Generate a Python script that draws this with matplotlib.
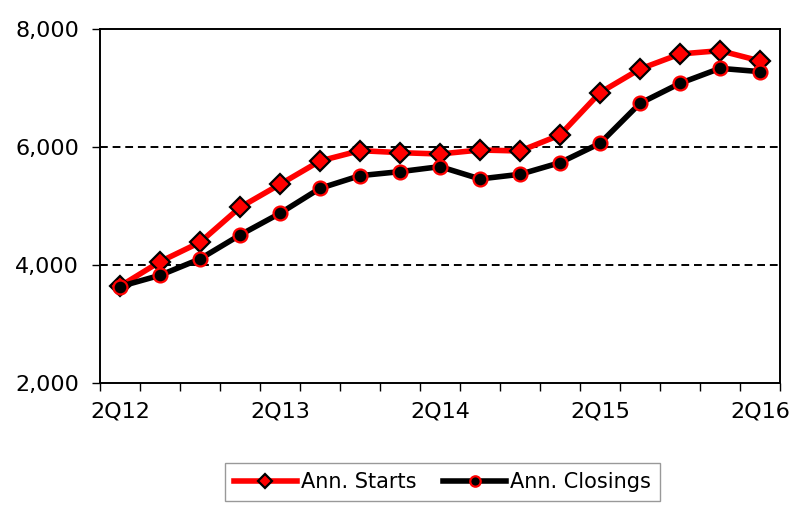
import matplotlib.pyplot as plt
from matplotlib.ticker import FuncFormatter, FixedLocator

# Quarterly data, 2Q12 .. 2Q16
quarters = ["2Q12", "3Q12", "4Q12", "1Q13", "2Q13", "3Q13", "4Q13", "1Q14", "2Q14",
            "3Q14", "4Q14", "1Q15", "2Q15", "3Q15", "4Q15", "1Q16", "2Q16"]
ann_starts = [3640, 4056, 4384, 4977, 5367, 5763, 5938, 5904, 5881,
              5949, 5932, 6203, 6921, 7322, 7576, 7633, 7458]
ann_closings = [3635, 3825, 4102, 4508, 4876, 5299, 5514, 5582, 5667,
                5458, 5537, 5734, 6062, 6740, 7079, 7333, 7277]
tick_labels = ["2Q12", "2Q13", "2Q14", "2Q15", "2Q16"]

plt.rcParams['font.family'] = ['DejaVu Sans']

fig = plt.figure(figsize=(8, 5.25), dpi=100)
ax = fig.add_axes([0.125, 0.2705, 0.85, 0.6743])

x = list(range(len(quarters)))
ax.plot(x, ann_starts, color='red', lw=4, marker='D', ms=10,
        mfc='red', mec='black', mew=1.6, label="Ann. Starts", zorder=3)
ax.plot(x, ann_closings, color='black', lw=4, marker='o', ms=10,
        mfc='black', mec='red', mew=1.6, label="Ann. Closings", zorder=3)

ax.set_ylim(2000, 8000)
ax.set_yticks([2000, 4000, 6000, 8000])
ax.yaxis.set_major_formatter(FuncFormatter(lambda v, p: f"{int(v):,}"))
for g in [4000, 6000]:
    ax.axhline(g, color='black', ls=(0, (4, 2.5)), lw=1.4, zorder=1)

ax.set_xlim(-0.5, len(quarters) - 0.5)
ax.set_xticks([quarters.index(q) for q in tick_labels])
ax.set_xticklabels(tick_labels)
ax.xaxis.set_minor_locator(FixedLocator([i - 0.5 for i in range(len(quarters) + 1)]))

ax.tick_params(axis='x', which='major', length=0, pad=13, labelsize=16)
ax.tick_params(axis='x', which='minor', length=6, width=1, direction='out')
ax.tick_params(axis='y', which='major', length=6, width=1, pad=9, labelsize=16)

for s in ax.spines.values():
    s.set_linewidth(1.4)
    s.set_color('black')

leg = fig.legend(loc='center', bbox_to_anchor=(0.553, 0.082), ncol=2,
                 fontsize=15, frameon=True, fancybox=False, handlelength=3.0,
                 handletextpad=0.2, columnspacing=1.3, borderpad=0.45,
                 markerscale=0.75)
leg.get_frame().set_edgecolor('#808080')
leg.get_frame().set_linewidth(1.0)

fig.savefig("out.png", dpi=100)
